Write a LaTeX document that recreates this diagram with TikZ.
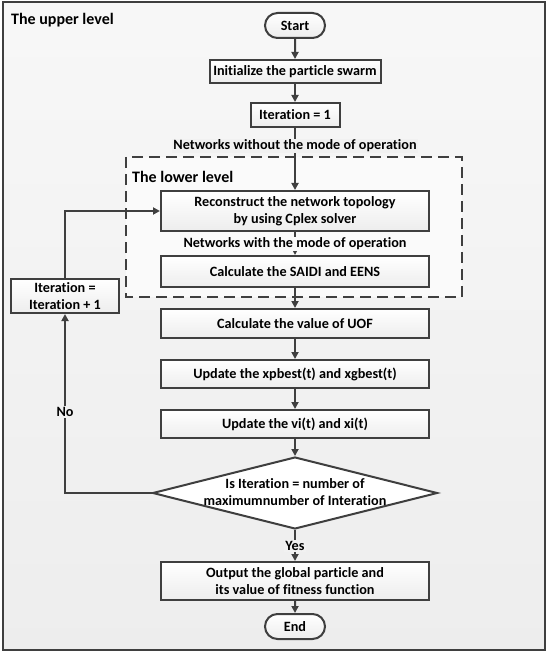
\documentclass[tikz,border=0pt]{standalone}
\usepackage{fontspec}
\setmainfont{Carlito}[Ligatures=NoCommon]
\usetikzlibrary{arrows.meta,shapes.geometric,shapes.misc}
\definecolor{ln}{HTML}{3F3F3F}
\definecolor{bg}{HTML}{F1F1F1}
\tikzset{
  base/.style={draw=ln, line width=2pt, top color=white, bottom color=black!7, inner sep=2pt, align=center,
    font=\fontsize{14.2}{17}\selectfont\bfseries},
  procbox/.style={base, rectangle, minimum width=#1, minimum height=28pt},
  term/.style={base, rounded rectangle, minimum width=64pt, minimum height=25pt},
  arr/.style={draw=ln, line width=2pt, -{Triangle[length=7pt,width=7pt]}},
  lbl/.style={fill=bg, inner sep=1pt, font=\fontsize{14.2}{17}\selectfont\bfseries},
  title/.style={inner sep=0pt, font=\fontsize{16}{19}\selectfont\bfseries, anchor=west}
}
\begin{document}
\begin{tikzpicture}[x=1pt,y=-1pt]
\useasboundingbox (0,0) rectangle (547,652);
\fill[white] (0,0) rectangle (547,652);
\draw[draw=ln, line width=2pt, top color=black!3, bottom color=black!7] (2.5,2.5) rectangle (544.5,649.5);
\node[title] (up) at (11,20) {The upper level};
% lower level dashed frame
\draw[draw=ln, line width=2pt, dash pattern=on 11pt off 6pt, fill=black!2] (126,157) rectangle (462,297);
\node[title] (low) at (132,177) {The lower level};

\node[term] (start) at (295,25.5) {Start};
\node[procbox=171pt, minimum height=23pt] (init) at (295,71.5) {Initialize the particle swarm};
\node[procbox=89pt, minimum height=24pt] (it1) at (295,115) {Iteration = 1};
\node[procbox=268pt, minimum height=40pt] (rec) at (295,211) {Reconstruct the network topology\\by using Cplex solver};
\node[procbox=268pt, minimum height=31pt] (sai) at (295,271.5) {Calculate the SAIDI and EENS};
\node[procbox=268pt, minimum height=29pt] (uof) at (295,323.5) {Calculate the value of UOF};
\node[procbox=268pt] (xp) at (295,374) {Update the xpbest(t) and xgbest(t)};
\node[procbox=268pt] (vi) at (295,424) {Update the vi(t) and xi(t)};
\node[base, diamond, minimum width=285pt, minimum height=72pt, inner sep=0pt, top color=white, bottom color=white] (dec) at (295,493) {};
\node[inner sep=0pt, align=center, font=\fontsize{14.2}{17}\selectfont\bfseries] (dect) at (295,492) {Is Iteration = number of\\maximumnumber of Interation};
\node[procbox=268pt, minimum height=38pt] (out) at (295,581) {Output the global particle and\\its value of fitness function};
\node[term] (end) at (295,626.5) {End};
\node[procbox=108pt, minimum height=34pt] (it2) at (65,296) {Iteration =\\Iteration + 1};

\draw[arr] (start) -- (init);
\draw[arr] (init) -- (it1);
\draw[arr] (it1) -- (rec);
\draw[arr] (rec) -- (sai);
\draw[arr] (sai) -- (uof);
\draw[arr] (uof) -- (xp);
\draw[arr] (xp) -- (vi);
\draw[arr] (vi) -- (dec);
\draw[arr] (dec) -- (out);
\draw[arr] (out) -- (end);
\draw[arr] (dec.west) -| (it2.south);
\draw[arr] (it2.north) |- (rec.west);

\node[lbl] (nwo) at (295,146) {Networks without the mode of operation};
\node[lbl, fill=black!2] (nw) at (295,244) {Networks with the mode of operation};
\node[lbl] (yes) at (295,546) {Yes};
\node[lbl] (no) at (65,412) {No};
\end{tikzpicture}
\end{document}
